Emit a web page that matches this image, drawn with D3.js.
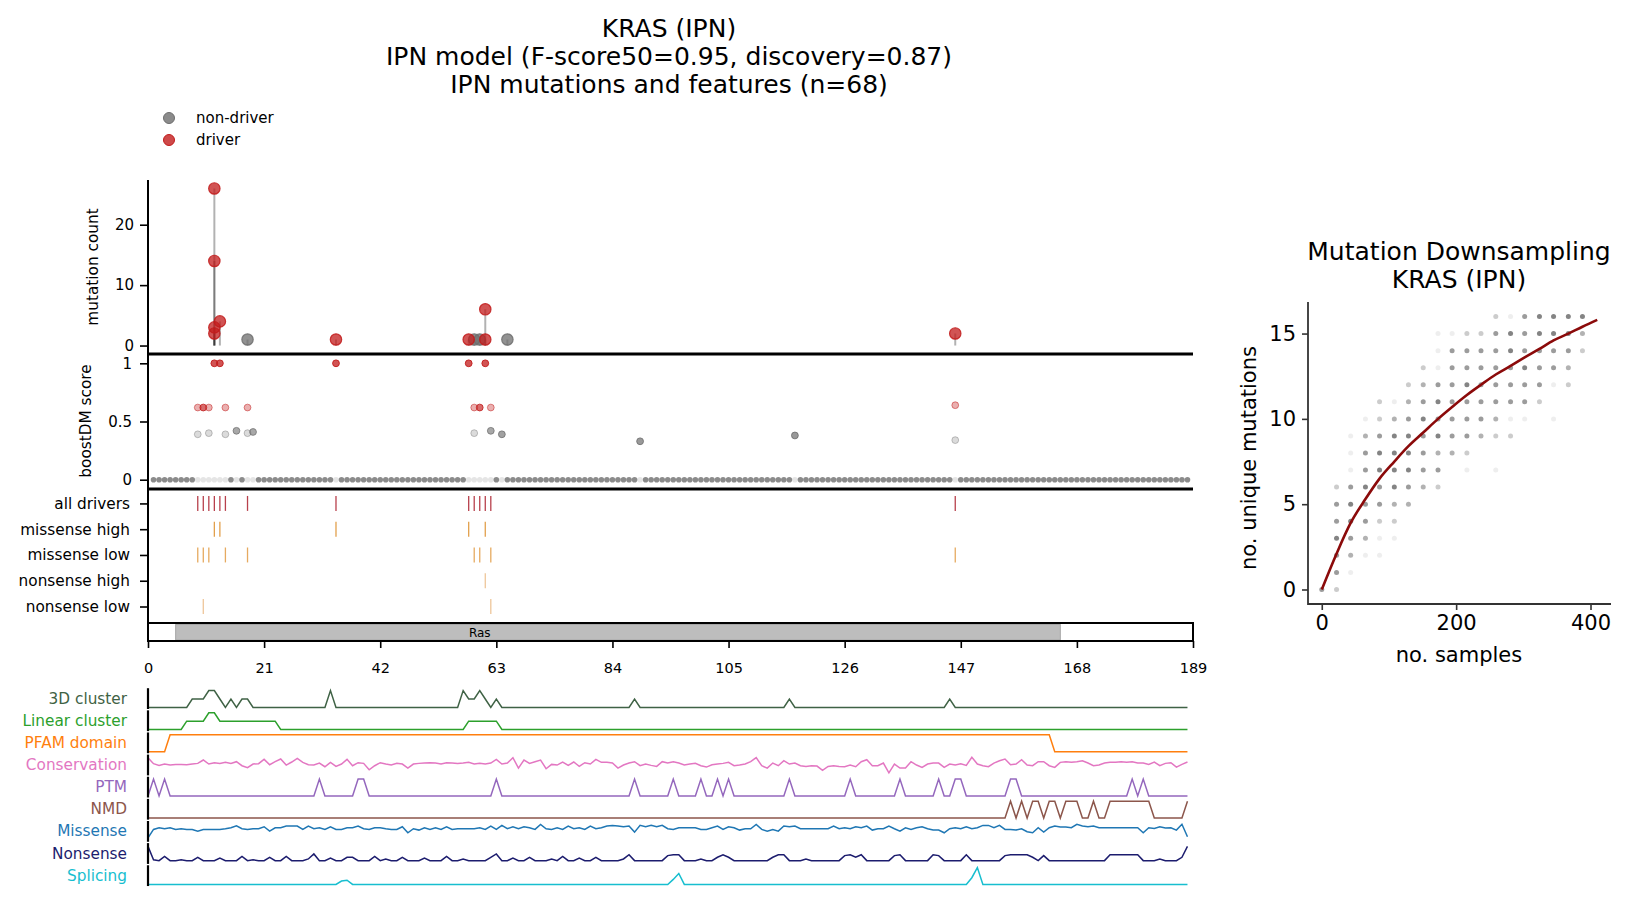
<!DOCTYPE html>
<html>
<head>
<meta charset="utf-8">
<script src="https://cdn.jsdelivr.net/npm/d3@7"></script>
<style>
  body { margin: 0; background: #fff; }
  svg text { font-family: "DejaVu Sans", sans-serif; fill: #000; }
</style>
</head>
<body>
<svg id="chart" width="1632" height="905"></svg>
<script>
// ---- data ----
const titleLines = ['KRAS (IPN)', 'IPN model (F-score50=0.95, discovery=0.87)', 'IPN mutations and features (n=68)']

// observed mutations: protein position, count, driver flag
const mutPos = [12, 12, 12, 12, 13, 18, 34, 58, 59, 60, 61, 61, 65, 146]
const mutCount = [26, 14, 3, 2, 4, 1, 1, 1, 1, 1, 6, 1, 1, 2]
const mutDriver = [1, 1, 1, 1, 1, 0, 1, 1, 0, 0, 1, 1, 0, 1]

// boostDM scores of observed mutations
const boostPos = [12, 13, 34, 58, 61, 9, 10, 11, 14, 18, 59, 60, 62, 146, 9, 11, 14, 16, 18, 19, 59, 62, 64, 89, 117, 146]
const boostScore = [1, 1, 1, 1, 1, 0.62, 0.62, 0.62, 0.62, 0.62, 0.62, 0.62, 0.62, 0.64, 0.39, 0.4, 0.39, 0.42, 0.4, 0.41, 0.4, 0.42, 0.39, 0.33, 0.38, 0.34]
const boostDriver = [1, 1, 1, 1, 1, 1, 1, 1, 1, 1, 1, 1, 1, 1, 0, 0, 0, 0, 0, 0, 0, 0, 0, 0, 0, 0]
const boostAlpha = [0.75, 0.75, 0.75, 0.75, 0.75, 0.35, 0.65, 0.35, 0.35, 0.35, 0.35, 0.65, 0.35, 0.35, 0.25, 0.25, 0.25, 0.6, 0.25, 0.6, 0.25, 0.6, 0.65, 0.7, 0.7, 0.25]
// positions whose zero-score dot is pale
const zeroRowLight = [9, 10, 11, 12, 13, 14, 16, 18, 19, 34, 58, 59, 60, 61, 62, 64, 89, 117, 146]
const proteinLength = 188

// driver feature rows
const rowLabels = ['all drivers', 'missense high', 'missense low', 'nonsense high', 'nonsense low']
const rowPositions = [
  [9, 10, 11, 12, 13, 14, 18, 34, 58, 59, 60, 61, 62, 146],
  [12, 13, 34, 58, 61],
  [9, 10, 11, 14, 18, 59, 60, 62, 146],
  [61],
  [10, 62]
]
const rowColors = ['#b8404c', '#e2a04c', '#e6aa60', '#eec69a', '#eec69a']

// pfam domain
const domainName = 'Ras'
const domainStart = 5
const domainEnd = 165
const xTicks = [0, 21, 42, 63, 84, 105, 126, 147, 168, 189]

// feature tracks (values 0..1 per position 0..188)
const trackNames = ['3D cluster', 'Linear cluster', 'PFAM domain', 'Conservation', 'PTM', 'NMD', 'Missense', 'Nonsense', 'Splicing']
const trackColors = ['#3f6245', '#2ca02c', '#ff7f0e', '#e377c2', '#9467bd', '#8c564b', '#1f77b4', '#1c1c6e', '#17becf']

const cluster3d = [[8, 0.5], [9, 0.5], [10, 0.5], [11, 1], [12, 1], [13, 0.5], [15, 0.5], [17, 0.5], [18, 0.5], [33, 1],
  [57, 1], [58, 0.5], [59, 0.5], [60, 1], [61, 0.5], [63, 0.5], [88, 0.5], [116, 0.5], [145, 0.5]]
const clusterLinear = [[7, 0.5], [8, 0.5], [9, 0.5], [10, 0.5], [11, 1], [12, 1], [13, 0.5], [14, 0.5], [15, 0.5], [16, 0.5],
  [17, 0.5], [18, 0.5], [19, 0.5], [20, 0.5], [21, 0.5], [22, 0.5], [23, 0.5],
  [58, 0.5], [59, 0.5], [60, 0.5], [61, 0.5], [62, 0.5], [63, 0.5]]
const pfamSpan = [4, 163]
const ptmSites = [1, 3, 31, 38, 39, 63, 88, 95, 100, 103, 105, 116, 127, 136, 143, 146, 147, 156, 157, 178, 180]
const nmdSites = [156, 158, 160, 161, 163, 164, 166, 167, 168, 171, 174, 175, 176, 177, 178, 179, 180, 181, 188]
const splicing = [[35, 0.2], [36, 0.25], [95, 0.3], [96, 0.65], [149, 0.4], [150, 1]]

const conservation = [
  0.95, 0.6, 0.5, 0.58, 0.52, 0.56, 0.56, 0.54, 0.58, 0.62,
  0.82, 0.58, 0.66, 0.62, 0.68, 0.62, 0.72, 0.48, 0.36, 0.58,
  0.6, 0.86, 0.54, 0.72, 0.88, 0.52, 0.7, 0.92, 0.68, 0.54,
  0.52, 0.64, 0.42, 0.68, 0.44, 0.58, 0.86, 0.48, 0.66, 0.62,
  0.24, 0.48, 0.66, 0.58, 0.52, 0.62, 0.58, 0.34, 0.58, 0.62,
  0.64, 0.66, 0.64, 0.58, 0.66, 0.64, 0.62, 0.64, 0.68, 0.58,
  0.62, 0.58, 0.64, 0.86, 0.58, 0.64, 0.96, 0.34, 0.82, 0.62,
  0.72, 0.82, 0.3, 0.56, 0.52, 0.7, 0.5, 0.7, 0.44, 0.66,
  0.58, 0.86, 0.68, 0.68, 0.64, 0.34, 0.52, 0.64, 0.72, 0.48,
  0.58, 0.5, 0.44, 0.72, 0.64, 0.72, 0.64, 0.52, 0.58, 0.62,
  0.48, 0.4, 0.54, 0.58, 0.62, 0.68, 0.48, 0.52, 0.58, 0.72,
  0.96, 0.48, 0.34, 0.64, 0.48, 0.78, 0.58, 0.64, 0.48, 0.44,
  0.48, 0.46, 0.2, 0.44, 0.48, 0.44, 0.42, 0.52, 0.42, 0.72,
  0.84, 0.48, 0.48, 0.64, 0.06, 0.58, 0.34, 0.34, 0.72, 0.52,
  0.38, 0.58, 0.64, 0.64, 0.38, 0.58, 0.52, 0.6, 0.5, 0.98,
  0.58, 0.48, 0.42, 0.64, 0.78, 0.88, 0.54, 0.58, 0.84, 0.52,
  0.48, 0.72, 0.72, 0.48, 0.38, 0.68, 0.72, 0.68, 0.72, 0.78,
  0.64, 0.48, 0.52, 0.64, 0.68, 0.68, 0.72, 0.68, 0.72, 0.64,
  0.64, 0.56, 0.7, 0.48, 0.62, 0.66, 0.4, 0.56, 0.7
]
const missense = [
  0.14, 0.64, 0.74, 0.68, 0.74, 0.64, 0.68, 0.64, 0.64, 0.54,
  0.64, 0.64, 0.64, 0.64, 0.68, 0.74, 0.86, 0.68, 0.64, 0.68,
  0.68, 0.8, 0.54, 0.74, 0.74, 0.84, 0.84, 0.84, 0.64, 0.84,
  0.68, 0.74, 0.64, 0.8, 0.64, 0.64, 0.74, 0.74, 0.84, 0.68,
  0.64, 0.74, 0.74, 0.68, 0.64, 0.64, 0.8, 0.44, 0.68, 0.6,
  0.74, 0.64, 0.74, 0.64, 0.8, 0.64, 0.68, 0.68, 0.68, 0.68,
  0.74, 0.64, 0.84, 0.64, 0.88, 0.68, 0.8, 0.68, 0.8, 0.74,
  0.64, 0.94, 0.68, 0.64, 0.74, 0.64, 0.84, 0.68, 0.74, 0.64,
  0.84, 0.68, 0.74, 0.84, 0.88, 0.84, 0.8, 0.84, 0.48, 0.88,
  0.8, 0.88, 0.8, 0.88, 0.68, 0.64, 0.74, 0.74, 0.74, 0.74,
  0.64, 0.64, 0.74, 0.84, 0.64, 0.8, 0.74, 0.6, 0.68, 0.68,
  0.94, 0.64, 0.54, 0.64, 0.54, 0.84, 0.8, 0.84, 0.68, 0.68,
  0.68, 0.68, 0.68, 0.68, 0.84, 0.68, 0.74, 0.68, 0.8, 0.74,
  0.84, 0.6, 0.68, 0.68, 0.84, 0.68, 0.54, 0.74, 0.64, 0.74,
  0.8, 0.68, 0.6, 0.6, 0.44, 0.68, 0.74, 0.68, 0.8, 0.68,
  0.74, 0.88, 0.88, 0.74, 0.88, 0.64, 0.64, 0.6, 0.68, 0.5,
  0.44, 0.74, 0.48, 0.74, 0.84, 0.78, 0.78, 0.74, 0.94, 0.84,
  0.8, 0.84, 0.74, 0.74, 0.74, 0.74, 0.74, 0.74, 0.74, 0.74,
  0.44, 0.74, 0.7, 0.8, 0.72, 0.74, 0.6, 0.95, 0.2
]
const nonsense = [
  0.95, 0.15, 0.1, 0.35, 0.1, 0.1, 0.15, 0.1, 0.1, 0.3,
  0.1, 0.1, 0.1, 0.25, 0.1, 0.1, 0.1, 0.35, 0.1, 0.15,
  0.1, 0.1, 0.3, 0.1, 0.1, 0.35, 0.1, 0.1, 0.1, 0.2,
  0.5, 0.1, 0.1, 0.25, 0.1, 0.1, 0.3, 0.3, 0.1, 0.1,
  0.1, 0.35, 0.1, 0.2, 0.1, 0.1, 0.3, 0.1, 0.1, 0.1,
  0.25, 0.1, 0.1, 0.1, 0.35, 0.1, 0.1, 0.2, 0.1, 0.1,
  0.1, 0.1, 0.3, 0.5, 0.1, 0.1, 0.25, 0.1, 0.1, 0.3,
  0.1, 0.1, 0.1, 0.2, 0.1, 0.35, 0.1, 0.1, 0.25, 0.1,
  0.1, 0.3, 0.1, 0.1, 0.1, 0.1, 0.2, 0.45, 0.1, 0.1,
  0.1, 0.1, 0.1, 0.1, 0.4, 0.45, 0.45, 0.1, 0.1, 0.1,
  0.2, 0.1, 0.1, 0.3, 0.45, 0.3, 0.1, 0.1, 0.1, 0.1,
  0.1, 0.1, 0.1, 0.3, 0.45, 0.45, 0.1, 0.1, 0.1, 0.2,
  0.1, 0.1, 0.1, 0.1, 0.1, 0.1, 0.4, 0.45, 0.3, 0.45,
  0.1, 0.1, 0.1, 0.1, 0.1, 0.4, 0.45, 0.1, 0.1, 0.1,
  0.1, 0.1, 0.45, 0.4, 0.1, 0.1, 0.1, 0.1, 0.45, 0.1,
  0.1, 0.1, 0.1, 0.1, 0.1, 0.4, 0.45, 0.45, 0.45, 0.45,
  0.3, 0.1, 0.4, 0.1, 0.1, 0.1, 0.1, 0.1, 0.1, 0.1,
  0.1, 0.1, 0.1, 0.1, 0.45, 0.45, 0.45, 0.45, 0.45, 0.45,
  0.1, 0.1, 0.1, 0.2, 0.1, 0.1, 0.1, 0.3, 0.95
]

// downsampling panel
const dsTitle = ['Mutation Downsampling', 'KRAS (IPN)']
const dsSamples = [0, 22, 43, 65, 86, 108, 129, 151, 173, 194, 216, 237, 259, 281, 302, 324, 345, 367, 388]
// shade level (0 none .. 5 dark) for each no. unique mutations (row) and sample size (column)
const dsLevels = [
  [4, 2],
  [0, 4, 1],
  [0, 4, 3, 1, 1],
  [0, 5, 4, 3, 1, 1],
  [0, 4, 5, 4, 2, 2],
  [0, 4, 5, 4, 4, 3, 3],
  [0, 2, 4, 5, 4, 5, 4, 3, 2],
  [0, 0, 1, 4, 5, 5, 5, 4, 4, 0, 1, 0, 1],
  [0, 0, 1, 4, 5, 5, 5, 4, 3, 3, 2],
  [0, 0, 1, 3, 4, 5, 5, 4, 5, 4, 4, 3, 2, 2],
  [0, 0, 0, 1, 2, 3, 4, 5, 4, 4, 4, 4, 3, 1, 1, 0, 1],
  [0, 0, 0, 0, 2, 1, 3, 4, 5, 4, 4, 4, 4, 4, 4, 2],
  [0, 0, 0, 0, 0, 0, 2, 3, 4, 4, 5, 4, 4, 4, 4, 4, 1, 2],
  [0, 0, 0, 0, 0, 0, 0, 2, 1, 4, 4, 4, 4, 4, 5, 4, 4, 3],
  [0, 0, 0, 0, 0, 0, 0, 0, 1, 4, 4, 4, 4, 5, 4, 4, 4, 4, 2],
  [0, 0, 0, 0, 0, 0, 0, 0, 1, 1, 2, 2, 4, 5, 4, 5, 5, 5, 3],
  [0, 0, 0, 0, 0, 0, 0, 0, 0, 0, 0, 0, 2, 1, 4, 5, 5, 5, 5]
]
const levelAlpha = [0, 0.1, 0.3, 0.45, 0.58, 0.72]
const fitX = [0, 22, 43, 65, 86, 108, 129, 151, 173, 194, 216, 237, 259, 281, 302, 324, 345, 367, 388, 410]
const fitY = [0, 2.1, 3.9, 5.3, 6.5, 7.5, 8.4, 9.2, 10.0, 10.7, 11.4, 12.0, 12.6, 13.1, 13.6, 14.1, 14.6, 15.0, 15.4, 15.8]

// ---- drawing ----
const svg = d3.select('#chart')
const RED = '#c21b1b'
const GREY = '#6e6e6e'

const x = d3.scaleLinear().domain([0, 189]).range([148, 1193])

// titles
svg.append('g').selectAll('text').data(titleLines).join('text')
  .attr('x', 669).attr('y', (d, i) => 37 + i * 28)
  .attr('text-anchor', 'middle').attr('font-size', 25).text(d => d)

// legend
const legend = svg.append('g')
const legendItems = [['non-driver', GREY], ['driver', RED]]
legendItems.forEach(([label, color], i) => {
  legend.append('circle').attr('cx', 169).attr('cy', 118 + i * 22).attr('r', 5.5)
    .attr('fill', color).attr('fill-opacity', 0.8).attr('stroke', color).attr('stroke-width', 1)
  legend.append('text').attr('x', 196).attr('y', 123 + i * 22).attr('font-size', 15).text(label)
})

function styleAxis(g, size) {
  g.select('.domain').remove()
  g.selectAll('.tick line').attr('stroke', '#000').attr('stroke-width', 1.6)
  g.selectAll('.tick text').attr('font-size', size).attr('font-family', '"DejaVu Sans", sans-serif')
}

// mutation count panel
const mutations = mutPos.map((p, i) => ({ pos: p, count: mutCount[i], driver: mutDriver[i] }))
const yCount = d3.scaleLinear().domain([-1.4, 27.4]).range([354, 180])
const gCount = svg.append('g')
gCount.selectAll('line.stem').data(mutations).join('line')
  .attr('x1', d => x(d.pos)).attr('x2', d => x(d.pos))
  .attr('y1', yCount(0)).attr('y2', d => yCount(d.count))
  .attr('stroke', '#000').attr('stroke-opacity', 0.3).attr('stroke-width', 2)
gCount.selectAll('circle').data(mutations.slice().sort((a, b) => a.driver - b.driver)).join('circle')
  .attr('cx', d => x(d.pos)).attr('cy', d => yCount(d.count)).attr('r', 5.7)
  .attr('fill', d => d.driver ? RED : GREY).attr('fill-opacity', 0.75)
  .attr('stroke', d => d.driver ? RED : GREY).attr('stroke-opacity', 0.85).attr('stroke-width', 1.2)
gCount.append('g').attr('transform', `translate(${x(0)},0)`)
  .call(d3.axisLeft(yCount).tickValues([0, 10, 20]).tickSize(8).tickPadding(6))
  .call(g => styleAxis(g, 15))
gCount.append('line').attr('x1', x(0)).attr('x2', x(0)).attr('y1', 180).attr('y2', 354)
  .attr('stroke', '#000').attr('stroke-width', 2)
gCount.append('text').attr('transform', 'translate(98,267) rotate(-90)')
  .attr('text-anchor', 'middle').attr('font-size', 15.3).text('mutation count')

// boostDM panel
const yBoost = d3.scaleLinear().domain([-0.08, 1.08]).range([489, 354])
const gBoost = svg.append('g')
const zeroRow = d3.range(1, proteinLength + 1)
gBoost.selectAll('circle.zero').data(zeroRow).join('circle')
  .attr('cx', d => x(d)).attr('cy', yBoost(0)).attr('r', 2.8)
  .attr('fill', GREY).attr('fill-opacity', d => zeroRowLight.includes(d) ? 0.18 : 0.8)
const boosts = boostPos.map((p, i) => ({ pos: p, score: boostScore[i], driver: boostDriver[i], alpha: boostAlpha[i] }))
gBoost.selectAll('circle.b').data(boosts).join('circle')
  .attr('cx', d => x(d.pos)).attr('cy', d => yBoost(d.score)).attr('r', 3.4)
  .attr('fill', d => d.driver ? RED : GREY).attr('fill-opacity', d => d.alpha)
  .attr('stroke', d => d.driver ? RED : GREY).attr('stroke-opacity', d => Math.min(1, d.alpha + 0.15)).attr('stroke-width', 1)
gBoost.append('g').attr('transform', `translate(${x(0)},0)`)
  .call(d3.axisLeft(yBoost).tickValues([0, 0.5, 1]).tickFormat(d => d === 0.5 ? '0.5' : d3.format('d')(d)).tickSize(8).tickPadding(8))
  .call(g => styleAxis(g, 15))
gBoost.append('line').attr('x1', x(0)).attr('x2', x(0)).attr('y1', 354).attr('y2', 489)
  .attr('stroke', '#000').attr('stroke-width', 2)
gBoost.append('text').attr('transform', 'translate(91,421) rotate(-90)')
  .attr('text-anchor', 'middle').attr('font-size', 15.3).text('boostDM score')

// horizontal separators between panels
svg.append('g').selectAll('line').data([354, 489]).join('line')
  .attr('x1', x(0)).attr('x2', x(189)).attr('y1', d => d).attr('y2', d => d)
  .attr('stroke', '#000').attr('stroke-width', 3)

// driver feature rows
const yRow = d3.scaleLinear().domain([-0.56, 4.64]).range([489, 623])
const gRows = svg.append('g')
rowPositions.forEach((positions, r) => {
  gRows.append('g').selectAll('line').data(positions).join('line')
    .attr('x1', d => x(d)).attr('x2', d => x(d))
    .attr('y1', yRow(r - 0.29)).attr('y2', yRow(r + 0.29))
    .attr('stroke', rowColors[r]).attr('stroke-width', 1.3)
})
gRows.append('g').attr('transform', `translate(${x(0)},0)`)
  .call(d3.axisLeft(yRow).tickValues(d3.range(rowLabels.length)).tickFormat(i => rowLabels[i]).tickSize(8).tickPadding(10))
  .call(g => styleAxis(g, 15.3))
gRows.append('line').attr('x1', x(0)).attr('x2', x(0)).attr('y1', 489).attr('y2', 623)
  .attr('stroke', '#000').attr('stroke-width', 2)

// domain panel
const gDom = svg.append('g')
gDom.append('rect').attr('x', x(domainStart)).attr('y', 624.5)
  .attr('width', x(domainEnd) - x(domainStart)).attr('height', 15.5)
  .attr('fill', '#bdbdbd').attr('stroke', '#a6a6a6').attr('stroke-width', 1)
gDom.append('text').attr('x', x(60)).attr('y', 636.5).attr('text-anchor', 'middle')
  .attr('font-size', 12).text(domainName)
gDom.append('rect').attr('x', x(0)).attr('y', 623).attr('width', x(189) - x(0)).attr('height', 18)
  .attr('fill', 'none').attr('stroke', '#000').attr('stroke-width', 2)
gDom.append('g').attr('transform', 'translate(0,641)')
  .call(d3.axisBottom(x).tickValues(xTicks).tickSize(7).tickPadding(15))
  .call(g => styleAxis(g, 14.5))

// feature tracks
const positions = d3.range(0, proteinLength + 1)
function fromPairs(pairs) {
  const arr = positions.map(() => 0)
  pairs.forEach(([p, v]) => { arr[p] = v })
  return arr
}
const trackValues = [
  fromPairs(cluster3d),
  fromPairs(clusterLinear),
  positions.map(p => (p >= pfamSpan[0] && p <= pfamSpan[1]) ? 1 : 0),
  conservation,
  fromPairs(ptmSites.map(p => [p, 1])),
  fromPairs(nmdSites.map(p => [p, 1])),
  missense,
  nonsense,
  fromPairs(splicing)
]
const gTracks = svg.append('g')
trackNames.forEach((name, i) => {
  const c = 698.4 + i * 22.13
  const yT = d3.scaleLinear().domain([0, 1]).range([c + 9, c - 7.8])
  const line = d3.line().x((d, j) => x(positions[j])).y(d => yT(d))
  gTracks.append('path').datum(trackValues[i]).attr('d', line)
    .attr('fill', 'none').attr('stroke', trackColors[i]).attr('stroke-width', 1.5)
  gTracks.append('line').attr('x1', x(0)).attr('x2', x(0)).attr('y1', c - 10.2).attr('y2', c + 10.6)
    .attr('stroke', '#000').attr('stroke-width', 2.2)
  gTracks.append('text').attr('x', 127).attr('y', c + 5.3).attr('text-anchor', 'end')
    .attr('font-size', 15.3).style('fill', trackColors[i]).text(name)
})

// downsampling panel
const xs = d3.scaleLinear().domain([-20.5, 430.5]).range([1308, 1611])
const ys = d3.scaleLinear().domain([-0.85, 16.85]).range([604, 302])
const gDs = svg.append('g')
const dots = []
dsLevels.forEach((row, v) => row.forEach((lvl, k) => { if (lvl > 0) dots.push({ s: dsSamples[k], v, lvl }) }))
gDs.selectAll('circle').data(dots).join('circle')
  .attr('cx', d => xs(d.s)).attr('cy', d => ys(d.v)).attr('r', 2.5)
  .attr('fill', '#555').attr('fill-opacity', d => levelAlpha[d.lvl])
gDs.append('path').datum(fitX.map((s, i) => [s, fitY[i]]))
  .attr('d', d3.line().x(d => xs(d[0])).y(d => ys(d[1])).curve(d3.curveMonotoneX))
  .attr('fill', 'none').attr('stroke', '#8b0a0a').attr('stroke-width', 2.6)
gDs.append('g').attr('transform', 'translate(1308,0)')
  .call(d3.axisLeft(ys).tickValues([0, 5, 10, 15]).tickSize(6).tickPadding(6))
  .call(g => styleAxis(g, 21))
gDs.append('g').attr('transform', 'translate(0,604)')
  .call(d3.axisBottom(xs).tickValues([0, 200, 400]).tickSize(6).tickPadding(5))
  .call(g => styleAxis(g, 21))
gDs.selectAll('.tick line').attr('stroke', '#333')
gDs.append('path').attr('d', 'M1308,302V604H1611').attr('fill', 'none').attr('stroke', '#333').attr('stroke-width', 1.8)
gDs.append('text').attr('x', 1459).attr('y', 662).attr('text-anchor', 'middle').attr('font-size', 21).text('no. samples')
gDs.append('text').attr('transform', 'translate(1256,458) rotate(-90)').attr('text-anchor', 'middle')
  .attr('font-size', 21).text('no. unique mutations')
gDs.append('g').selectAll('text').data(dsTitle).join('text')
  .attr('x', 1459).attr('y', (d, i) => 260 + i * 28).attr('text-anchor', 'middle')
  .attr('font-size', 25).text(d => d)
</script>
</body>
</html>
